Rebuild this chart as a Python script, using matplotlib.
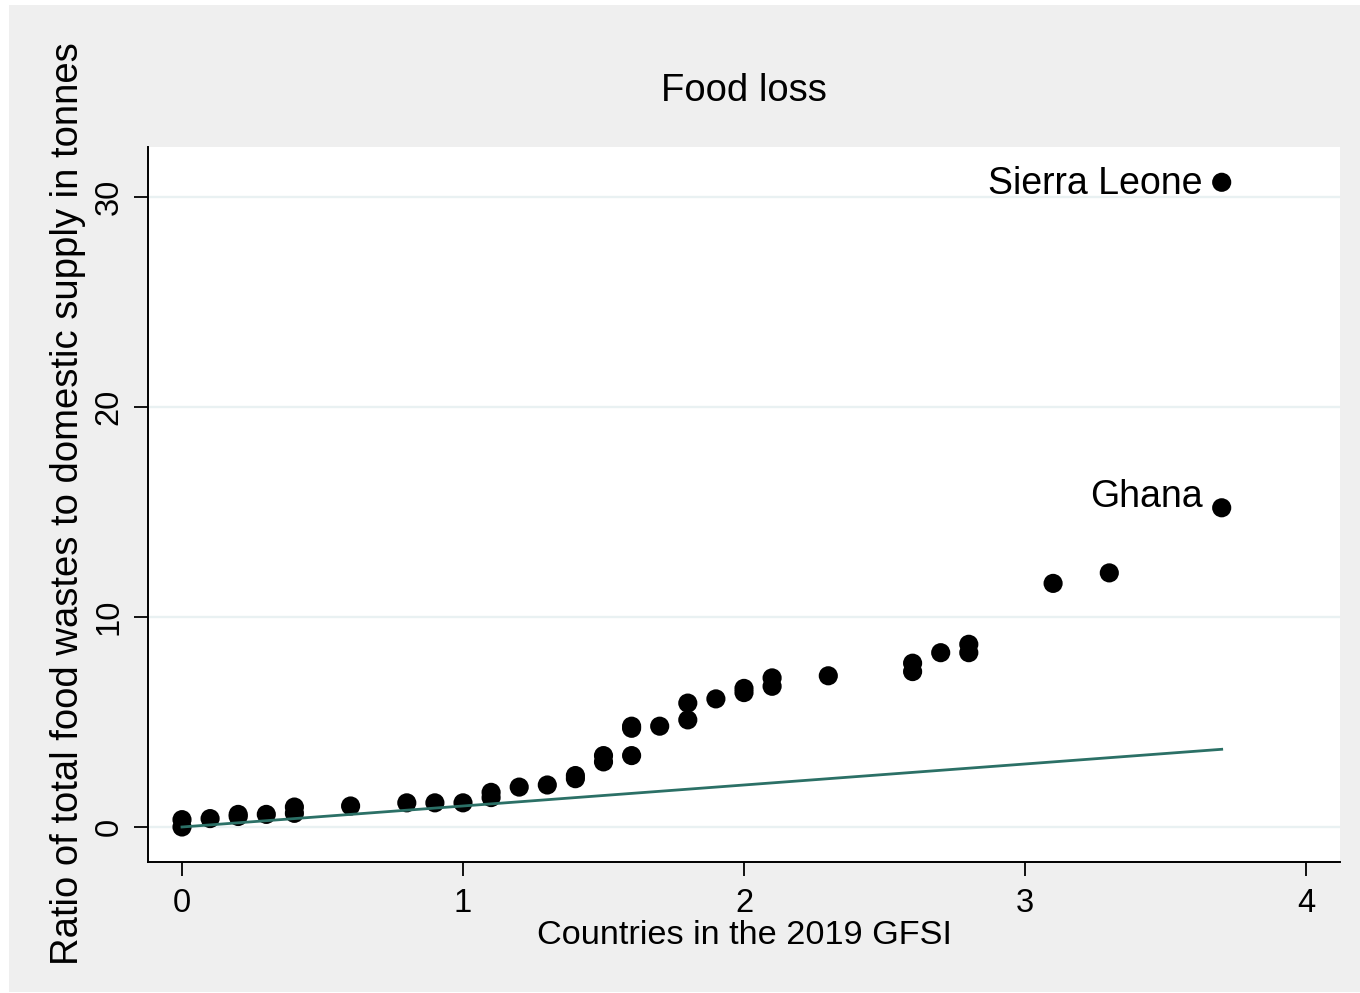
import matplotlib
matplotlib.use("Agg")
import matplotlib.pyplot as plt
from matplotlib.patches import Rectangle

plt.rcParams["font.family"] = ["Liberation Sans", "DejaVu Sans"]

# Food loss ratio per country, GFSI 2019
gfsi_x = [0.0, 0.0, 0.1, 0.2, 0.2, 0.3, 0.4, 0.4, 0.6, 0.8, 0.9, 1.0, 1.1, 1.1,
          1.2, 1.3, 1.4, 1.4, 1.5, 1.5, 1.6, 1.6, 1.6, 1.7, 1.8, 1.8, 1.9, 2.0,
          2.0, 2.1, 2.1, 2.3, 2.6, 2.6, 2.7, 2.8, 2.8, 3.1, 3.3, 3.7, 3.7]
loss_ratio = [0.0, 0.35, 0.4, 0.5, 0.6, 0.6, 0.95, 0.65, 1.0, 1.15, 1.15, 1.15,
              1.65, 1.4, 1.9, 2.0, 2.45, 2.3, 3.4, 3.1, 4.8, 4.7, 3.4, 4.8,
              5.9, 5.1, 6.1, 6.6, 6.4, 7.1, 6.7, 7.2, 7.8, 7.4, 8.3, 8.7, 8.3,
              11.6, 12.1, 15.2, 30.7]

# reference line
ref_x = [0.0, 3.7]
ref_y = [0.0, 3.7]

# labelled outliers
label_names = ["Sierra Leone", "Ghana"]
label_x = [3.7, 3.7]
label_y = [30.7, 15.2]
label_offsets = [(-14, -1), (-14, 8)]

xticks = [0, 1, 2, 3, 4]
yticks = [0, 10, 20, 30]

W, H = 1360, 993
fig = plt.figure(figsize=(W / 100, H / 100), dpi=100, facecolor="white")
fig.patches.append(Rectangle((9 / W, 1 / H), (W - 9) / W, (H - 6) / H,
                             transform=fig.transFigure, facecolor="#efefef",
                             edgecolor="none", zorder=-10))

ax = fig.add_axes([148 / W, (H - 862) / H, (1340 - 148) / W, (862 - 147) / H])
ax.set_facecolor("white")

ax.set_xlim(-0.121, 4.121)
ax.set_ylim(-1.667, 32.38)

for yt in yticks:
    ax.axhline(yt, color="#e9f1f2", linewidth=1.7, zorder=0)

ax.plot(ref_x, ref_y, color="#2b7066", linewidth=2.0, zorder=3)
ax.scatter(gfsi_x, loss_ratio, s=190, color="black", edgecolors="none", zorder=2)

for name, lx, ly, off in zip(label_names, label_x, label_y, label_offsets):
    ax.annotate(name, (lx, ly), xytext=off, textcoords="offset points",
                ha="right", va="center", fontsize=27, color="black")

ax.set_xticks(xticks)
ax.set_yticks(yticks)
ax.set_yticklabels([str(t) for t in yticks], rotation=90, va="center")
ax.tick_params(axis="both", labelsize=23.5, length=10, width=1.3, color="black")
ax.tick_params(axis="x", pad=9)
ax.tick_params(axis="y", pad=7)

for side in ["top", "right"]:
    ax.spines[side].set_visible(False)
for side in ["left", "bottom"]:
    ax.spines[side].set_linewidth(1.4)

# titles placed in figure pixels
fig.text(744 / W, 1 - 91 / H, "Food loss", fontsize=27.5,
         ha="center", va="center")
fig.text(744 / W, 1 - 936 / H, "Countries in the 2019 GFSI", fontsize=24.7,
         ha="center", va="center")
fig.text(68 / W, 1 - 504 / H,
         "Ratio of total food wastes to domestic supply in tonnes",
         fontsize=27.5, rotation=90, ha="center", va="center")

fig.savefig("out.png", dpi=100, facecolor="white")
